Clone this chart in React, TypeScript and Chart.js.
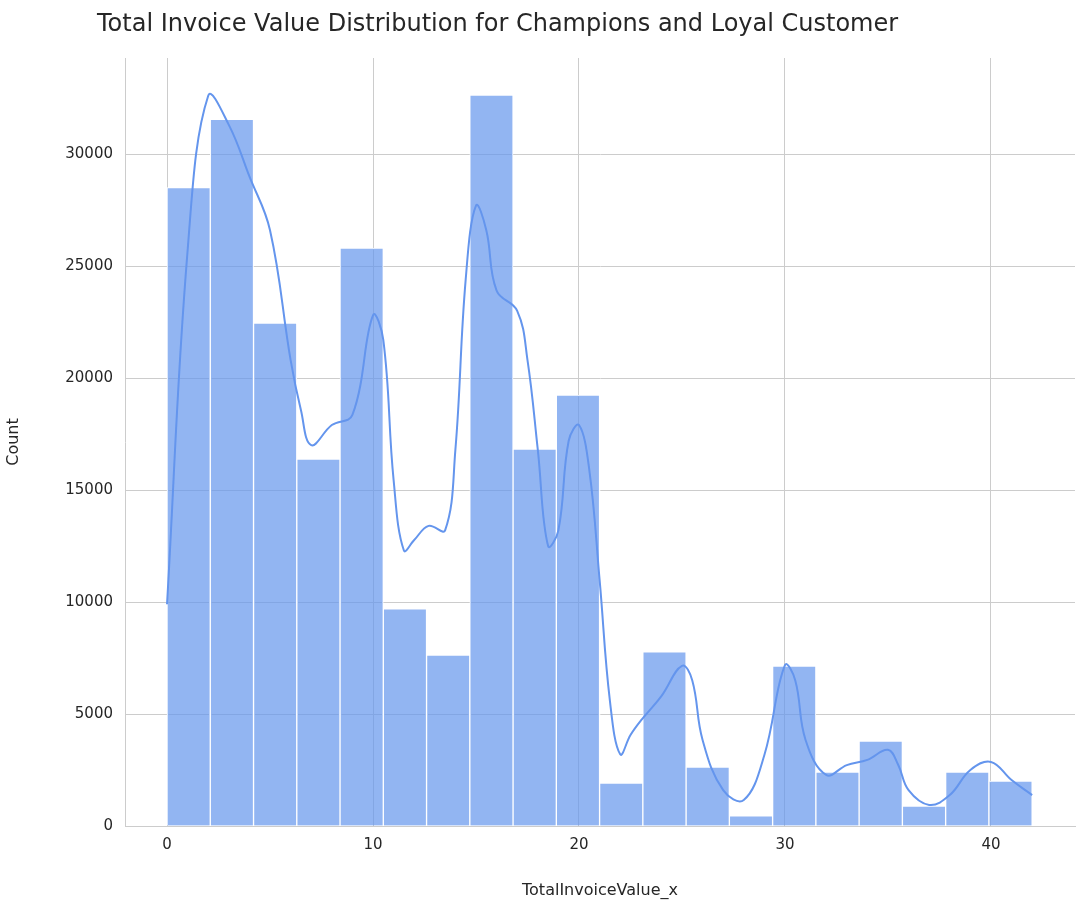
import React, { useEffect, useRef } from "react";
import Chart from "chart.js/auto";

// histogram bins: 20 bins of width 2.1 from 0 to 42
const binWidth = 2.1;
const binCounts = [
  28500, 31550, 22450, 16380, 25800, 9690, 7630, 32630, 16830, 19240,
  1920, 7770, 2630, 450, 7140, 2410, 3790, 890, 2410, 2000,
];

// kde curve
const kdeX = [
  0, 1, 2, 3, 4, 5, 6, 6.5, 7, 8, 9, 10, 10.5, 11, 11.5, 12, 12.7, 13.5, 14,
  14.5, 15, 15.5, 16, 17, 17.5, 18, 18.5, 19, 19.5, 20, 20.5, 21, 21.5, 22,
  22.5, 23, 24, 25, 25.5, 26, 27, 28, 29, 30, 30.5, 31, 32, 33, 34, 35, 35.5,
  36, 37, 38, 39, 40, 41, 42,
];
const kdeY = [
  9900, 25700, 32600, 31300, 29000, 26600, 20800, 18570, 17000, 17900, 18350,
  22800, 21700, 15450, 12300, 12770, 13400, 13200, 16800, 24400, 27700, 26600,
  23900, 23000, 20800, 16800, 12500, 13200, 17200, 17900, 15900, 11000, 5600,
  3200, 4060, 4700, 5800, 7150, 6500, 3840, 1600, 1160, 3170, 7180, 6500, 3840,
  2280, 2720, 2950, 3400, 2720, 1600, 940, 1380, 2500, 2860, 2050, 1380,
];

const xTicks = [0, 10, 20, 30, 40];
const yTicks = [0, 5000, 10000, 15000, 20000, 25000, 30000];
const titleText = "Total Invoice Value Distribution for Champions and Loyal Customer";

const font = "'DejaVu Sans', sans-serif";
const textColor = "#262626";
const gridColor = "#cccccc";

export default function App() {
  const canvasRef = useRef<HTMLCanvasElement | null>(null);

  useEffect(() => {
    if (!canvasRef.current) return;
    const chart = new Chart(canvasRef.current, {
      type: "bar",
      data: {
        datasets: [
          {
            type: "line",
            data: kdeX.map((x, i) => ({ x, y: kdeY[i] })),
            borderColor: "#6495ed",
            borderWidth: 2,
            pointRadius: 0,
            tension: 0.4,
            order: 0,
          },
          {
            type: "bar",
            data: binCounts.map((y, i) => ({ x: (i + 0.5) * binWidth, y })),
            backgroundColor: "rgba(100,149,237,0.7)",
            borderColor: "#ffffff",
            borderWidth: 1,
            barPercentage: 1,
            categoryPercentage: 1,
            grouped: false,
            order: 1,
          },
        ],
      },
      options: {
        animation: false,
        responsive: true,
        maintainAspectRatio: false,
        layout: { padding: { top: 58, right: 13, left: 0, bottom: 0 } },
        plugins: { legend: { display: false }, tooltip: { enabled: false } },
        scales: {
          x: {
            type: "linear",
            offset: false,
            min: -2.04,
            max: 44.08,
            afterBuildTicks: (axis) => {
              axis.ticks = xTicks.map((value) => ({ value }));
            },
            afterFit: (axis) => {
              axis.height = 78;
            },
            grid: { color: gridColor, drawTicks: false, offset: false },
            border: { display: true, color: gridColor },
            ticks: { color: textColor, font: { family: font, size: 15 }, padding: 10 },
            title: {
              display: true,
              text: "TotalInvoiceValue_x",
              color: textColor,
              font: { family: font, size: 16 },
              padding: { top: 0 },
            },
          },
          y: {
            min: 0,
            max: 34286,
            afterBuildTicks: (axis) => {
              axis.ticks = yTicks.map((value) => ({ value }));
            },
            afterFit: (axis) => {
              axis.width = 125;
            },
            grid: { color: gridColor, drawTicks: false },
            border: { display: true, color: gridColor },
            ticks: {
              color: textColor,
              font: { family: font, size: 15 },
              padding: 12,
              callback: (v) => String(v),
            },
            title: {
              display: true,
              text: "Count",
              color: textColor,
              font: { family: font, size: 16 },
              padding: { bottom: 0 },
            },
          },
        },
      },
      plugins: [
        {
          id: "leftTitle",
          afterDraw: (c) => {
            const ctx = c.ctx;
            ctx.save();
            ctx.fillStyle = textColor;
            ctx.font = `24px ${font}`;
            ctx.textBaseline = "middle";
            ctx.fillText(titleText, 97, 25);
            ctx.restore();
          },
        },
      ],
    });
    return () => chart.destroy();
  }, []);

  return (
    <div style={{ position: "fixed", left: 0, top: 0, width: 1088, height: 904, background: "#fff" }}>
      <canvas ref={canvasRef} />
    </div>
  );
}
